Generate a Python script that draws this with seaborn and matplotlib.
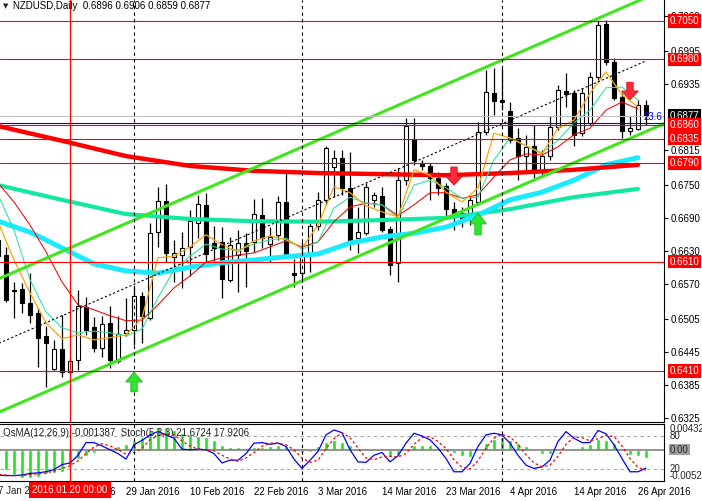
import matplotlib
matplotlib.use('Agg')
import matplotlib.pyplot as plt
import matplotlib.transforms as mtransforms
from matplotlib.patches import FancyArrow
import numpy as np
import pandas as pd
import seaborn as sns

# NZDUSD daily bars (bar 0 = 7 Jan 2016, bar 81 = 27 Apr 2016)
opens = [0.6650, 0.6622, 0.6558, 0.6560, 0.6535, 0.6516, 0.6474, 0.6414, 0.6450, 0.6408,
         0.6430, 0.6527, 0.6491, 0.6452, 0.6498, 0.6428, 0.6480, 0.6485, 0.6547, 0.6507,
         0.6664, 0.6721, 0.6619, 0.6622, 0.6637, 0.6681, 0.6714, 0.6644, 0.6646, 0.6577,
         0.6622, 0.6644, 0.6646, 0.6695, 0.6642, 0.6659, 0.6719, 0.6589, 0.6589, 0.6626,
         0.6675, 0.6723, 0.6783, 0.6800, 0.6745, 0.6653, 0.6662, 0.6723, 0.6730, 0.6670,
         0.6608, 0.6759, 0.6834, 0.6790, 0.6785, 0.6763, 0.6748, 0.6706, 0.6699, 0.6695,
         0.6719, 0.6847, 0.6918, 0.6906, 0.6885, 0.6836, 0.6803, 0.6821, 0.6774, 0.6803,
         0.6856, 0.6922, 0.6918, 0.6845, 0.6864, 0.6948, 0.7045, 0.6975, 0.6911, 0.6849,
         0.6853, 0.6896]
highs = [0.6668, 0.6637, 0.6573, 0.6571, 0.6589, 0.6525, 0.6492, 0.6467, 0.6513, 0.6434,
         0.6558, 0.6546, 0.6509, 0.6511, 0.6529, 0.6511, 0.6544, 0.6564, 0.6555, 0.6681,
         0.6747, 0.6752, 0.6650, 0.6664, 0.6705, 0.6732, 0.6736, 0.6675, 0.6673, 0.6655,
         0.6668, 0.6662, 0.6725, 0.6726, 0.6673, 0.6730, 0.6772, 0.6615, 0.6646, 0.6681,
         0.6737, 0.6821, 0.6814, 0.6814, 0.6811, 0.6710, 0.6754, 0.6737, 0.6747, 0.6675,
         0.6781, 0.6873, 0.6873, 0.6796, 0.6790, 0.6774, 0.6754, 0.6719, 0.6710, 0.6730,
         0.6865, 0.6960, 0.6964, 0.6964, 0.6902, 0.6854, 0.6842, 0.6860, 0.6814, 0.6876,
         0.6933, 0.6955, 0.6924, 0.6928, 0.6957, 0.7052, 0.7052, 0.6982, 0.6918, 0.6876,
         0.6906, 0.6906]
lows = [0.6609, 0.6536, 0.6507, 0.6516, 0.6498, 0.6417, 0.6381, 0.6412, 0.6399, 0.6407,
        0.6412, 0.6476, 0.6445, 0.6436, 0.6416, 0.6425, 0.6474, 0.6458, 0.6461, 0.6503,
        0.6637, 0.6609, 0.6573, 0.6562, 0.6584, 0.6653, 0.6609, 0.6604, 0.6544, 0.6573,
        0.6555, 0.6564, 0.6628, 0.6635, 0.6609, 0.6650, 0.6617, 0.6564, 0.6573, 0.6591,
        0.6668, 0.6714, 0.6728, 0.6732, 0.6631, 0.6626, 0.6659, 0.6710, 0.6664, 0.6586,
        0.6573, 0.6750, 0.6787, 0.6778, 0.6723, 0.6732, 0.6692, 0.6668, 0.6673, 0.6677,
        0.6714, 0.6842, 0.6878, 0.6887, 0.6827, 0.6759, 0.6774, 0.6763, 0.6768, 0.6796,
        0.6851, 0.6893, 0.6821, 0.6840, 0.6860, 0.6942, 0.6970, 0.6906, 0.6836, 0.6842,
        0.6851, 0.6859]
closes = [0.6620, 0.6540, 0.6557, 0.6535, 0.6513, 0.6471, 0.6461, 0.6450, 0.6408, 0.6428,
          0.6529, 0.6485, 0.6452, 0.6496, 0.6430, 0.6478, 0.6485, 0.6547, 0.6511, 0.6662,
          0.6721, 0.6626, 0.6626, 0.6635, 0.6684, 0.6715, 0.6624, 0.6635, 0.6578, 0.6641,
          0.6644, 0.6630, 0.6697, 0.6653, 0.6655, 0.6719, 0.6624, 0.6586, 0.6626, 0.6675,
          0.6723, 0.6818, 0.6800, 0.6745, 0.6650, 0.6664, 0.6747, 0.6732, 0.6668, 0.6604,
          0.6759, 0.6858, 0.6796, 0.6785, 0.6763, 0.6745, 0.6706, 0.6699, 0.6684, 0.6723,
          0.6847, 0.6920, 0.6904, 0.6902, 0.6832, 0.6803, 0.6820, 0.6774, 0.6803, 0.6856,
          0.6924, 0.6917, 0.6842, 0.6918, 0.6948, 0.7043, 0.6975, 0.6909, 0.6849, 0.6854,
          0.6896, 0.6877]

# moving averages
fast_idx = list(range(0, 81, 2))
ma_orange = [0.6683, 0.6613, 0.6553, 0.6498, 0.6469, 0.6476, 0.6467, 0.6471, 0.6476, 0.6507,
             0.6617, 0.6620, 0.6637, 0.6659, 0.6641, 0.6628, 0.6648, 0.6657, 0.6650, 0.6635,
             0.6677, 0.6747, 0.6736, 0.6712, 0.6701, 0.6692, 0.6778, 0.6768, 0.6737, 0.6719,
             0.6745, 0.6845, 0.6836, 0.6822, 0.6807, 0.6854, 0.6869, 0.6918, 0.6957, 0.6915,
             0.6893]
ma_green = [0.6732, 0.6668, 0.6577, 0.6518, 0.6489, 0.6480, 0.6483, 0.6480, 0.6474, 0.6487,
            0.6544, 0.6595, 0.6620, 0.6642, 0.6633, 0.6631, 0.6642, 0.6650, 0.6653, 0.6633,
            0.6646, 0.6708, 0.6728, 0.6717, 0.6714, 0.6690, 0.6750, 0.6759, 0.6745, 0.6726,
            0.6728, 0.6796, 0.6836, 0.6822, 0.6809, 0.6832, 0.6864, 0.6887, 0.6928, 0.6929,
            0.6906]
ma_red = [0.6754, 0.6719, 0.6677, 0.6628, 0.6573, 0.6531, 0.6522, 0.6511, 0.6502, 0.6503,
          0.6531, 0.6562, 0.6584, 0.6609, 0.6617, 0.6622, 0.6626, 0.6637, 0.6648, 0.6637,
          0.6646, 0.6683, 0.6710, 0.6717, 0.6714, 0.6694, 0.6714, 0.6736, 0.6736, 0.6726,
          0.6732, 0.6765, 0.6796, 0.6807, 0.6805, 0.6820, 0.6842, 0.6854, 0.6887, 0.6902,
          0.6889]
slow_idx = list(range(0, 81, 8))
ma_red_thick = [0.6858, 0.6831, 0.6803, 0.6785, 0.6776, 0.6772, 0.6770, 0.6768, 0.6772, 0.6778, 0.6787]
ma_teal_thick = [0.6750, 0.6723, 0.6697, 0.6688, 0.6684, 0.6683, 0.6686, 0.6690, 0.6706, 0.6728, 0.6743]
cyan_idx = list(range(0, 81, 4))
ma_cyan_thick = [0.6684, 0.6664, 0.6635, 0.6606, 0.6593, 0.6589, 0.6600, 0.6608, 0.6613, 0.6619,
                 0.6624, 0.6644, 0.6655, 0.6662, 0.6673, 0.6695, 0.6723, 0.6737, 0.6759, 0.6787,
                 0.6800]

# lower pane: OsMA(12,26,9) and Stoch(5,3,3)
osma = [-0.0030, -0.0034, -0.0043, -0.0047, -0.0048, -0.0045, -0.0041, -0.0039, -0.0037, -0.0025,
        -0.0016, -0.0010, -0.0005, -0.0001, 0.0003, 0.0006, 0.0009, 0.0016, 0.0020, 0.0030,
        0.0037, 0.0036, 0.0032, 0.0027, 0.0025, 0.0022, 0.0020, 0.0016, 0.0008, 0.0005,
        0.0004, 0.0003, 0.0005, 0.0004, 0.0006, 0.0007, 0.0006, -0.0004, -0.0005, -0.0004,
        0.0006, 0.0012, 0.0015, 0.0013, 0.0007, 0.0003, 0.0002, -0.0001, -0.0003, -0.0013,
        -0.0009, 0.0002, 0.0007, 0.0007, 0.0007, 0.0003, -0.0002, -0.0005, -0.0010, -0.0012,
        0.0002, 0.0010, 0.0017, 0.0021, 0.0016, 0.0010, 0.0006, -0.0002, -0.0007, -0.0007,
        -0.0001, 0.0003, 0.0002, 0.0006, 0.0009, 0.0018, 0.0016, 0.0010, -0.0002, -0.0009,
        -0.0010, -0.001387]
stoch_main = [9, 8, 8, 9, 12, 13, 15, 19, 28, 31,
              45, 68, 68, 62, 55, 48, 38, 64, 72, 82,
              88, 82, 76, 56, 55, 56, 55, 48, 31, 36,
              36, 48, 67, 68, 65, 67, 61, 38, 21, 36,
              52, 82, 91, 86, 55, 33, 32, 45, 50, 33,
              44, 67, 85, 80, 73, 58, 39, 15, 15, 30,
              61, 82, 85, 82, 67, 45, 27, 21, 24, 36,
              70, 88, 76, 68, 68, 90, 84, 64, 39, 15,
              15, 21.67]
stoch_signal = [10, 9, 8, 8, 10, 11, 13, 16, 21, 26,
                35, 48, 60, 66, 62, 55, 47, 50, 58, 73,
                81, 84, 82, 71, 62, 56, 55, 53, 45, 38,
                34, 40, 50, 61, 67, 67, 64, 55, 40, 32,
                36, 57, 75, 86, 77, 58, 40, 37, 42, 43,
                42, 48, 65, 77, 79, 70, 57, 37, 23, 20,
                35, 58, 76, 83, 78, 65, 46, 31, 24, 27,
                43, 65, 78, 77, 71, 75, 81, 79, 62, 39,
                23, 17.92]

# objects drawn on the chart
levels = [0.7050, 0.6980, 0.6860, 0.6835, 0.6790, 0.6610, 0.6410]
bid = 0.6877
fibo_236 = 0.6863
channel_x = [0, 84]
channel_upper = [0.6578, 0.7112]
channel_lower = [0.6334, 0.6867]
channel_mid_x = [0, 81]
channel_mid = [0.6460, 0.6977]
dashed_bars = [17, 38, 63]
crosshair_bar = 9
up_arrow_x = [17, 60]
up_arrow_from = [0.6372, 0.6659]
up_arrow_to = [0.6408, 0.6699]
down_arrow_x = [57, 79]
down_arrow_from = [0.6783, 0.6938]
down_arrow_to = [0.6750, 0.6906]

price_ticks = [0.7060, 0.6995, 0.6935, 0.6815, 0.6750, 0.6690, 0.6630, 0.6570, 0.6505,
               0.6445, 0.6385, 0.6325]
date_ticks = [8, 16, 24, 32, 40, 48, 56, 64, 72, 80]
date_labels = ['19 Jan 2016', '29 Jan 2016', '10 Feb 2016', '22 Feb 2016', '3 Mar 2016',
               '14 Mar 2016', '23 Mar 2016', '4 Apr 2016', '14 Apr 2016', '26 Apr 2016']

sns.set_style('white')
plt.rcParams['font.family'] = ['Liberation Sans', 'DejaVu Sans']
plt.rcParams['font.size'] = 7

W, H = 702, 501
fig = plt.figure(figsize=(W / 100, H / 100), dpi=100)
fig.patch.set_facecolor('white')
ax = fig.add_axes([0, (H - 422) / H, 664 / W, 422 / H])
ax2 = fig.add_axes([0, (H - 481) / H, 664 / W, 57.5 / H])
ax3 = ax2.twinx()

for a in (ax, ax2):
    a.set_xlim(0.25, 83.25)
    a.set_facecolor('white')
    for s in a.spines.values():
        s.set_color('black')
        s.set_linewidth(0.8)
    a.spines['left'].set_visible(False)
ax.spines['top'].set_visible(False)
ax.set_ylim(0.63168, 0.70884)
ax2.set_ylim(-0.00523, 0.00432)
ax3.set_ylim(-1.8, 102.7)
ax3.set_axis_off()

# --- main pane ---
df = pd.DataFrame({'o': opens, 'h': highs, 'l': lows, 'c': closes})
df['i'] = np.arange(len(df))
bull = df['c'] >= df['o']
ax.vlines(df['i'], df['l'], df['h'], color='black', lw=0.9, zorder=2)
ax.bar(df['i'], (df['c'] - df['o']).abs().clip(lower=0.00008),
       bottom=df[['o', 'c']].min(axis=1), width=0.55,
       color=np.where(bull, 'white', 'black'), edgecolor='black', linewidth=0.8, zorder=3)

sns.lineplot(x=slow_idx, y=ma_teal_thick, ax=ax, color='#12E8A2', lw=3.0, zorder=4)
sns.lineplot(x=cyan_idx, y=ma_cyan_thick, ax=ax, color='#1CEBFF', lw=3.6, zorder=4)
sns.lineplot(x=slow_idx, y=ma_red_thick, ax=ax, color='#FF0000', lw=3.2, zorder=4)
sns.lineplot(x=fast_idx, y=ma_red, ax=ax, color='#FF0000', lw=0.75, zorder=5)
sns.lineplot(x=fast_idx, y=ma_green, ax=ax, color='#22E6A0', lw=0.75, zorder=5)
sns.lineplot(x=fast_idx, y=ma_orange, ax=ax, color='#FFA500', lw=0.9, zorder=5)

sns.lineplot(x=channel_x, y=channel_upper, ax=ax, color='#3FE61E', lw=2.2, zorder=6)
sns.lineplot(x=channel_x, y=channel_lower, ax=ax, color='#3FE61E', lw=2.2, zorder=6)
ax.plot(channel_mid_x, channel_mid, color='black', lw=0.8, ls=(0, (2, 2)), zorder=6)

tr_main = mtransforms.blended_transform_factory(ax.transAxes, ax.transData)
for lv in levels:
    ax.axhline(lv, color='#FF0000', lw=0.8, zorder=6)
ax.axhline(bid, color='#C0C0C0', lw=0.8, zorder=6)
ax.axhline(fibo_236, color='#0000FF', lw=0.8, zorder=6)
ax.text(0.998, fibo_236 + 0.0002, '23.6', transform=tr_main, ha='right', va='bottom',
        color='#0000FF', fontsize=7, zorder=7)

for b in dashed_bars:
    ax.axvline(b, color='black', lw=0.8, ls=(0, (3, 3)), zorder=6)
    ax3.axvline(b, color='black', lw=0.8, ls=(0, (3, 3)), zorder=6)
ax.axvline(crosshair_bar, color='#FF0000', lw=0.9, zorder=7)
ax3.axvline(crosshair_bar, color='#FF0000', lw=0.9, zorder=7)

for x, y0, y1 in zip(up_arrow_x, up_arrow_from, up_arrow_to):
    ax.add_patch(FancyArrow(x, y0, 0, y1 - y0, width=0.8, head_width=2.1,
                            head_length=(y1 - y0) * 0.5, length_includes_head=True,
                            fc='#2EE62E', ec='#1CB81C', lw=0.6, zorder=8))
for x, y0, y1 in zip(down_arrow_x, down_arrow_from, down_arrow_to):
    ax.add_patch(FancyArrow(x, y0, 0, y1 - y0, width=0.8, head_width=2.1,
                            head_length=(y0 - y1) * 0.5, length_includes_head=True,
                            fc='#FF2A3C', ec='#D01020', lw=0.6, zorder=8))

ax.set_xticks([])
ax.yaxis.tick_right()
ax.set_yticks(price_ticks)
ax.set_yticklabels([f'{v:.4f}' for v in price_ticks])
ax.tick_params(axis='y', length=3, width=0.8, pad=1.5, labelsize=7, colors='black')
ax.text(1.008, bid, f'{bid:.4f}', transform=tr_main, ha='left', va='center', color='white',
        fontsize=7, bbox=dict(boxstyle='square,pad=0.08', fc='black', ec='black', lw=1.5),
        clip_on=False, zorder=19)
for lv in levels:
    ax.text(1.008, lv, f'{lv:.4f}', transform=tr_main, ha='left', va='center', color='white',
            fontsize=7, bbox=dict(boxstyle='square,pad=0.08', fc='#FF0000', ec='#FF0000', lw=1.5),
            clip_on=False, zorder=20)

# --- lower pane ---
ax2.bar(df['i'], osma, width=0.5, color='#22E022', zorder=2)
ax2.axhline(0, color='#808080', lw=1.2, zorder=3)
for lv in (80, 20):
    ax3.axhline(lv, color='#A8A8A8', lw=0.8, ls=(0, (3, 3)), zorder=2)
sns.lineplot(x=df['i'], y=stoch_main, ax=ax3, color='#0000FF', lw=0.9, zorder=4)
ax3.plot(df['i'], stoch_signal, color='#FF0000', lw=0.9, ls=(0, (2, 2)), zorder=4)

ax2.set_yticks([])
ax2.set_xticks(date_ticks)
ax2.set_xticklabels(date_labels, ha='left')
ax2.tick_params(axis='x', length=3, width=0.8, pad=1.5, labelsize=7, colors='black')
ax2.tick_params(axis='y', length=0)
tr_date = mtransforms.blended_transform_factory(ax2.transData, ax2.transAxes)
ax2.annotate('7 Jan 2016', xy=(0, 0), xycoords=tr_date, xytext=(0, -3.7),
             textcoords='offset points', ha='left', va='top', fontsize=7,
             annotation_clip=False)
ax2.annotate('2016.01.20 00:00', xy=(crosshair_bar, 0), xycoords=tr_date, xytext=(0, -2.6),
             textcoords='offset points', ha='center', va='top', fontsize=7, color='white',
             bbox=dict(boxstyle='square,pad=0.3', fc='#FF0000', ec='none'),
             annotation_clip=False, zorder=20)

tr_osma = mtransforms.blended_transform_factory(ax2.transAxes, ax2.transData)
tr_sto = mtransforms.blended_transform_factory(ax3.transAxes, ax3.transData)
ax2.text(1.009, 0.00432, '0.00432', transform=tr_osma, ha='left', va='top', fontsize=7, clip_on=False)
ax2.text(1.009, -0.00523, '-0.00523', transform=tr_osma, ha='left', va='bottom', fontsize=7, clip_on=False)
ax2.text(1.009, 0, '0.00', transform=tr_osma, ha='left', va='center', fontsize=7, clip_on=False,
         bbox=dict(boxstyle='square,pad=0.1', fc='#A0A0A0', ec='none'), zorder=20)
ax3.text(1.009, 80, '80', transform=tr_sto, ha='left', va='center', fontsize=7, clip_on=False)
ax3.text(1.009, 20, '20', transform=tr_sto, ha='left', va='center', fontsize=7, clip_on=False)

# headers
fig.text(3 / W, 1 - 6 / H, '\u25bc', fontsize=5, va='center', ha='left', family=['DejaVu Sans'])
fig.text(13 / W, 1 - 6 / H, 'NZDUSD,Daily  0.6896 0.6906 0.6859 0.6877', fontsize=7,
         va='center', ha='left', color='black')
fig.text(3 / W, 1 - 432.5 / H, 'OsMA(12,26,9) -0.001387  Stoch(5,3,3) 21.6724 17.9206',
         fontsize=7, va='center', ha='left', color='#202020')

fig.savefig('out.png', dpi=100, facecolor='white')
